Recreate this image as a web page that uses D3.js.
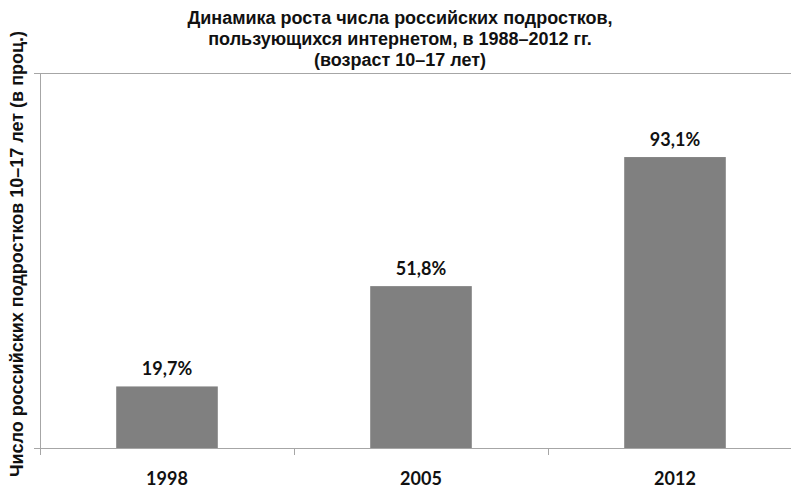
<!DOCTYPE html>
<html lang="ru">
<head>
<meta charset="UTF-8">
<title>Динамика роста</title>
<style>
  body { margin: 0; background: #fff; }
</style>
</head>
<body>
<svg id="chart" width="791" height="488"></svg>
<script src="https://d3js.org/d3.v7.min.js"></script>
<script>
// данные с диаграммы
var years = ["1998", "2005", "2012"];
var values = [19.7, 51.8, 93.1];
var titleLines = [
  "Динамика роста числа российских подростков,",
  "пользующихся интернетом, в 1988\u20132012 гг.",
  "(возраст  10\u201317 лет)"
];
var yLabel = "Число российских подростков 10\u201317 лет (в проц.)";

var svg = d3.select("#chart");
var left = 40, plotTop = 73, bottom = 448, bandW = 254;

var x = d3.scaleBand()
  .domain(years)
  .range([left, left + bandW * years.length])
  .padding(0);

var y = d3.scaleLinear()
  .domain([0, 120])
  .range([bottom, plotTop]);

var axisColor = "#a6a6a6";

// верхняя линия области построения
svg.append("line")
  .attr("x1", left - 6).attr("x2", 791)
  .attr("y1", plotTop + 0.5).attr("y2", plotTop + 0.5)
  .attr("stroke", axisColor);

// ось Y
svg.append("line")
  .attr("x1", left + 0.5).attr("x2", left + 0.5)
  .attr("y1", plotTop).attr("y2", bottom)
  .attr("stroke", axisColor);
svg.append("line")
  .attr("x1", left - 6).attr("x2", left)
  .attr("y1", bottom + 0.5).attr("y2", bottom + 0.5)
  .attr("stroke", axisColor);

// ось X
svg.append("line")
  .attr("x1", left).attr("x2", 791)
  .attr("y1", bottom + 0.5).attr("y2", bottom + 0.5)
  .attr("stroke", axisColor);
svg.selectAll(".xtick")
  .data(years)
  .enter().append("line")
  .attr("class", "xtick")
  .attr("x1", function(d) { return Math.round(x(d)) + 0.5; })
  .attr("x2", function(d) { return Math.round(x(d)) + 0.5; })
  .attr("y1", bottom).attr("y2", bottom + 7)
  .attr("stroke", axisColor);

// столбцы
var barW = x.bandwidth() * 0.4;
svg.selectAll(".bar")
  .data(values)
  .enter().append("rect")
  .attr("class", "bar")
  .attr("x", function(d, i) { return x(years[i]) + (x.bandwidth() - barW) / 2; })
  .attr("y", function(d) { return y(d); })
  .attr("width", barW)
  .attr("height", function(d) { return bottom - y(d); })
  .attr("fill", "#808080");

// подписи значений
svg.selectAll(".val")
  .data(values)
  .enter().append("text")
  .attr("class", "val")
  .attr("x", function(d, i) { return x(years[i]) + x.bandwidth() / 2; })
  .attr("y", function(d) { return y(d) - 11; })
  .attr("text-anchor", "middle")
  .style("font-family", "Lato, sans-serif")
  .style("font-weight", "bold")
  .style("font-size", "18px")
  .style("fill", "#111")
  .text(function(d) { return d.toFixed(1).replace(".", ",") + "%"; });

// подписи годов
svg.selectAll(".year")
  .data(years)
  .enter().append("text")
  .attr("class", "year")
  .attr("x", function(d) { return x(d) + x.bandwidth() / 2; })
  .attr("y", 485)
  .attr("text-anchor", "middle")
  .style("font-family", "Lato, sans-serif")
  .style("font-weight", "bold")
  .style("font-size", "18px")
  .style("fill", "#111")
  .text(function(d) { return d; });

// заголовок
svg.selectAll(".title")
  .data(titleLines)
  .enter().append("text")
  .attr("class", "title")
  .attr("x", 400)
  .attr("y", function(d, i) { return 24 + i * 21; })
  .attr("text-anchor", "middle")
  .style("font-family", "'Liberation Sans', Arial, sans-serif")
  .style("font-weight", "bold")
  .style("font-size", "18px")
  .style("fill", "#111")
  .text(function(d) { return d; });

// подпись оси Y
svg.append("text")
  .attr("transform", "translate(23,254) rotate(-90)")
  .attr("text-anchor", "middle")
  .style("font-family", "'Liberation Sans', Arial, sans-serif")
  .style("font-weight", "bold")
  .style("font-size", "18px")
  .style("fill", "#111")
  .text(yLabel);
</script>
</body>
</html>
